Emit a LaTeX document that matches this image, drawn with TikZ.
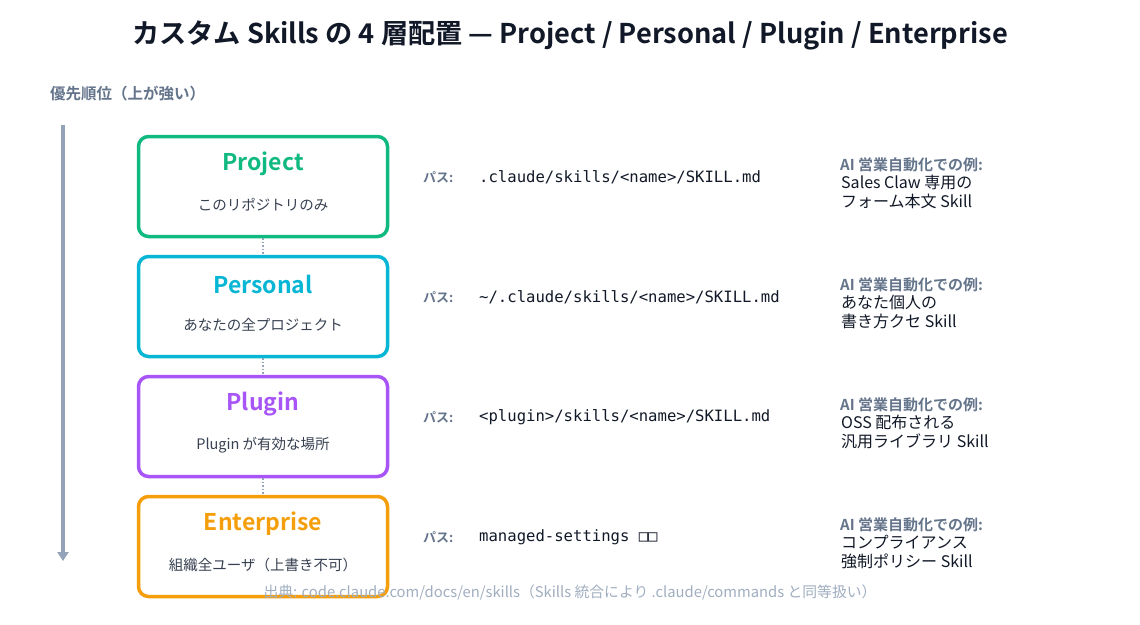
\documentclass[tikz,border=0pt]{standalone}
\usepackage{fontspec}
\setmainfont{Noto Sans CJK JP}
\newfontfamily\jpbold{Noto Sans CJK JP Bold}
\newfontfamily\monof{DejaVu Sans Mono}
\usetikzlibrary{arrows.meta}
\definecolor{ink}{HTML}{111827}
\definecolor{slate}{HTML}{64748B}
\definecolor{arr}{HTML}{94A3B8}
\definecolor{sub}{HTML}{374151}
\definecolor{foot}{HTML}{A0AEC0}
\definecolor{cgreen}{HTML}{10B981}
\definecolor{ccyan}{HTML}{06B6D4}
\definecolor{cpurple}{HTML}{A855F7}
\definecolor{corange}{HTML}{F59E0B}
\tikzset{
  layerbox/.style={draw=#1, line width=3.5pt, rounded corners=10pt, fill=white,
    minimum width=249pt, minimum height=100pt, inner sep=0pt},
  layertitle/.style={text=#1, font=\jpbold\fontsize{23}{27}\selectfont, anchor=center},
  layersub/.style={text=sub, font=\fontsize{14.5}{17}\selectfont, anchor=center},
  pathlabel/.style={text=slate, font=\jpbold\fontsize{13}{16}\selectfont, anchor=west},
  pathtext/.style={text=ink, font=\monof\fontsize{15.6}{18}\selectfont, anchor=west},
  exhead/.style={text=slate, font=\jpbold\fontsize{15}{17}\selectfont, anchor=west},
  exbody/.style={text=ink, font=\fontsize{16}{19}\selectfont, anchor=north west, align=left, inner sep=0pt},
  linkline/.style={draw=arr, line width=1.5pt, dotted},
}
\begin{document}
\begin{tikzpicture}[x=1pt,y=-1pt]
\useasboundingbox[fill=white] (0,0) rectangle (1140,624);
\node[text=ink, font=\jpbold\fontsize{27.2}{30}\selectfont] (title) at (570,35) {カスタム Skills の 4 層配置 — Project / Personal / Plugin / Enterprise};
\node[text=slate, font=\jpbold\fontsize{15.5}{17}\selectfont, anchor=west, inner sep=0pt] (prio) at (50,94) {優先順位（上が強い）};
\coordinate (atop) at (63,125);
\coordinate (abot) at (63,561);
\draw[draw=arr, line width=4pt, -{Triangle[length=9pt,width=11pt]}] (atop) -- (abot);

\node[layerbox=cgreen] (b1) at (263,186.5) {};
\node[layerbox=ccyan] (b2) at (263,306.5) {};
\node[layerbox=cpurple] (b3) at (263,426.5) {};
\node[layerbox=corange] (b4) at (263,546.5) {};
\draw[linkline] (b1.south) -- (b2.north);
\draw[linkline] (b2.south) -- (b3.north);
\draw[linkline] (b3.south) -- (b4.north);

\node[layertitle=cgreen] (t1) at (263,164) {Project};
\node[layersub] (s1) at (263,205) {このリポジトリのみ};
\node[layertitle=ccyan] (t2) at (263,284) {Personal};
\node[layersub] (s2) at (263,325) {あなたの全プロジェクト};
\node[layertitle=cpurple] (t3) at (263,404) {Plugin};
\node[layersub] (s3) at (263,445) {Plugin が有効な場所};
\node[layertitle=corange] (t4) at (263,524) {Enterprise};
\node[layersub] (s4) at (263,565) {組織全ユーザ（上書き不可）};

\node[pathlabel, inner sep=0pt] (pl1) at (423,177) {パス:};
\node[pathtext, inner sep=0pt] (pt1) at (479,177) {.claude/skills/<name>/SKILL.md};
\node[pathlabel, inner sep=0pt] (pl2) at (423,297) {パス:};
\node[pathtext, inner sep=0pt] (pt2) at (479,297) {\textasciitilde/.claude/skills/<name>/SKILL.md};
\node[pathlabel, inner sep=0pt] (pl3) at (423,417) {パス:};
\node[pathtext, inner sep=0pt] (pt3) at (479,417) {<plugin>/skills/<name>/SKILL.md};
\node[pathlabel, inner sep=0pt] (pl4) at (423,537) {パス:};
\node[pathtext, inner sep=0pt] (pt4) at (479,537) {managed-settings □□};

\node[exhead, inner sep=0pt] (e1) at (840,165) {AI 営業自動化での例:};
\node[exbody] (x1) at (841,175) {Sales Claw 専用の\\フォーム本文 Skill};
\node[exhead, inner sep=0pt] (e2) at (840,285) {AI 営業自動化での例:};
\node[exbody] (x2) at (841,295) {あなた個人の\\書き方クセ Skill};
\node[exhead, inner sep=0pt] (e3) at (840,405) {AI 営業自動化での例:};
\node[exbody] (x3) at (841,415) {OSS 配布される\\汎用ライブラリ Skill};
\node[exhead, inner sep=0pt] (e4) at (840,525) {AI 営業自動化での例:};
\node[exbody] (x4) at (841,535) {コンプライアンス\\強制ポリシー Skill};

\node[text=foot, font=\fontsize{14.8}{17}\selectfont] (src) at (570,592) {出典: code.claude.com/docs/en/skills（Skills 統合により .claude/commands と同等扱い）};
\end{tikzpicture}
\end{document}
